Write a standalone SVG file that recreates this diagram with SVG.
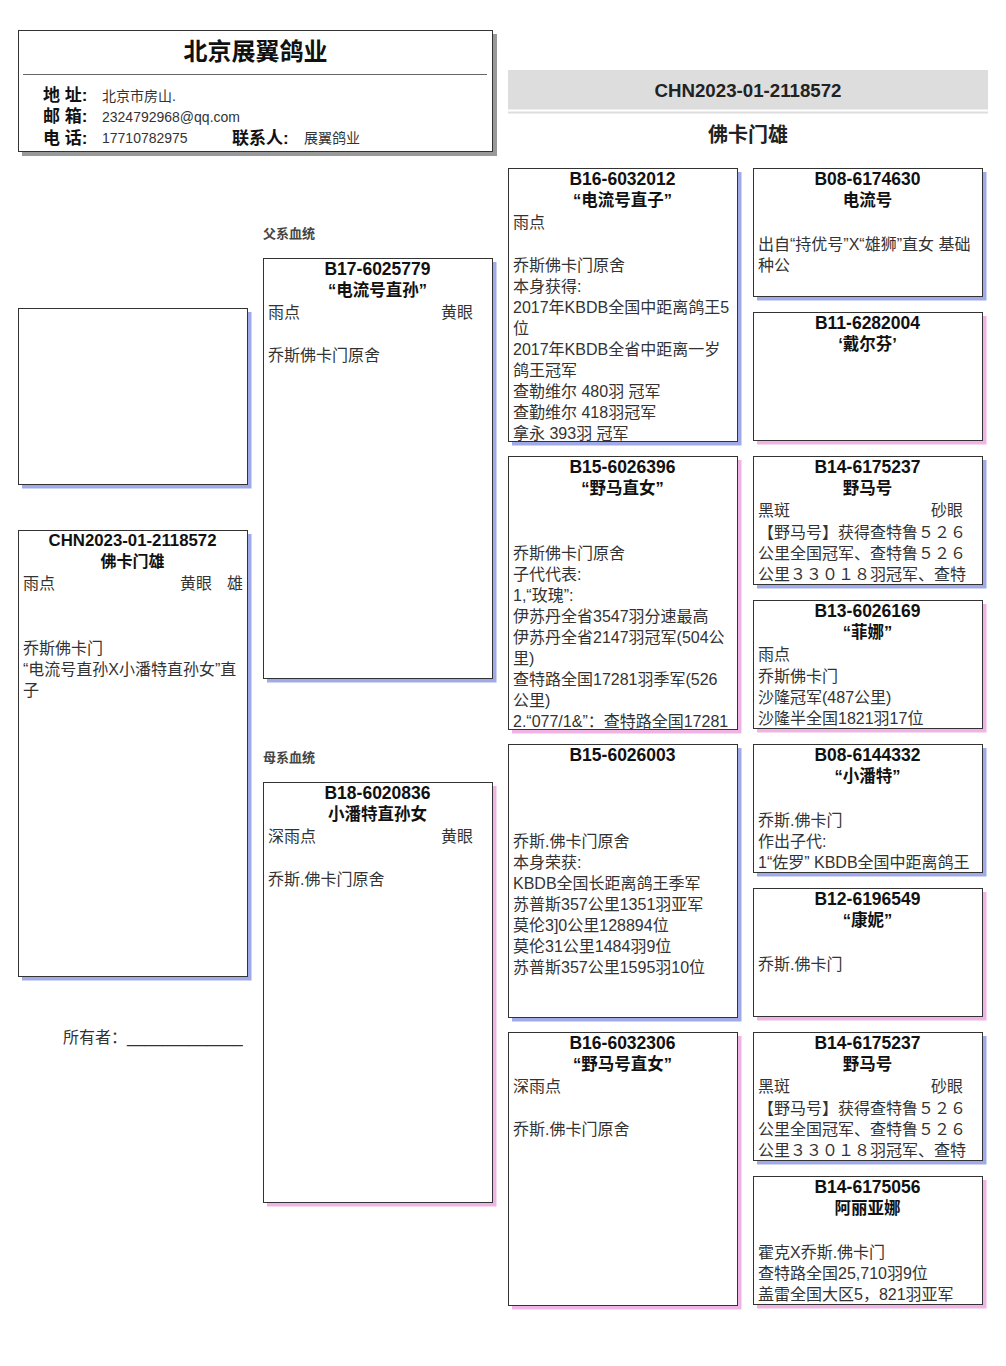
<svg xmlns="http://www.w3.org/2000/svg" width="1006" height="1366" viewBox="0 0 1006 1366">
<style>
text{font-family:"Liberation Sans","Noto Sans CJK SC",sans-serif}
.box{fill:#fff;stroke:#333;stroke-width:1}
.sm{fill:#a0aae8}
.sf{fill:#f0b4e4}
.sg{fill:#999}
.t{font-size:17.5px;font-weight:bold;text-anchor:middle;fill:#111}
.n{font-size:16.5px;font-weight:bold;text-anchor:middle;fill:#111}
.b{font-size:16px;fill:#333}
.r{text-anchor:end}
.hl{font-size:17px;font-weight:bold;fill:#111}
.hv{font-size:14px;fill:#333}
.lab{font-size:13px;font-weight:bold;fill:#444}
</style>
<defs>
<clipPath id="c3a"><rect x="508" y="168" width="230" height="274"/></clipPath>
<clipPath id="c3b"><rect x="508" y="456" width="230" height="274"/></clipPath>
<clipPath id="c3c"><rect x="508" y="744" width="230" height="274"/></clipPath>
<clipPath id="c4c"><rect x="753" y="456" width="230" height="129"/></clipPath>
<clipPath id="c4g"><rect x="753" y="1032" width="230" height="129"/></clipPath>
</defs>
<rect width="1006" height="1366" fill="#fff"/>

<g id="header">
<rect class="sg" x="22" y="34" width="475" height="122"/>
<rect class="box" x="18.5" y="30.5" width="474" height="121"/>
<text x="255.5" y="60" style="font-size:24px;font-weight:bold;text-anchor:middle;fill:#111">北京展翼鸽业</text>
<line x1="23" y1="74.5" x2="487" y2="74.5" stroke="#666" stroke-width="1"/>
<text class="hl" x="43" y="101">地 址:</text>
<text class="hv" x="102" y="101">北京市房山.</text>
<text class="hl" x="43" y="122">邮 箱:</text>
<text class="hv" x="102" y="122">2324792968@qq.com</text>
<text class="hl" x="43" y="144">电 话:</text>
<text class="hv" x="102" y="143">17710782975</text>
<text class="hl" x="232" y="144">联系人:</text>
<text class="hv" x="304" y="143">展翼鸽业</text>
</g>

<g id="title">
<rect x="508" y="70" width="480" height="39.5" fill="#ddd"/>
<rect x="508" y="111.5" width="480" height="2" fill="#ddd"/>
<text x="748" y="97" style="font-size:18.7px;font-weight:bold;text-anchor:middle;fill:#222">CHN2023-01-2118572</text>
<text x="748" y="142" style="font-size:20px;font-weight:bold;text-anchor:middle;fill:#222">佛卡门雄</text>
</g>

<g id="photo">
<rect class="sm" x="22" y="312" width="229.5" height="176.5"/>
<rect class="box" x="18.5" y="308.5" width="229" height="176"/>
</g>

<g id="subject">
<rect class="sm" x="22" y="534" width="229.5" height="446.5"/>
<rect class="box" x="18.5" y="530.5" width="229" height="446"/>
<text x="132.5" y="546" style="font-size:16.8px;font-weight:bold;text-anchor:middle;fill:#111">CHN2023-01-2118572</text>
<text x="132.5" y="567" style="font-size:16px;font-weight:bold;text-anchor:middle;fill:#111">佛卡门雄</text>
<text class="b" x="23" y="589">雨点</text>
<text class="b" x="180" y="589">黄眼</text>
<text class="b" x="227" y="589">雄</text>
<text class="b" x="23" y="654">乔斯佛卡门</text>
<text class="b" x="23" y="675">“电流号直孙X小潘特直孙女”直</text>
<text class="b" x="23" y="696">子</text>
</g>

<g id="owner">
<text class="b" x="63" y="1043">所有者：_____________</text>
</g>

<g id="labels">
<text class="lab" x="263" y="238">父系血统</text>
<text class="lab" x="263" y="762">母系血统</text>
</g>

<g id="sire">
<rect class="sm" x="267" y="262" width="229.5" height="420.5"/>
<rect class="box" x="263.5" y="258.5" width="229" height="420"/>
<text class="t" x="377.5" y="275">B17-6025779</text>
<text class="n" x="377.5" y="296">“电流号直孙”</text>
<text class="b" x="268" y="318">雨点</text>
<text class="b r" x="473" y="318">黄眼</text>
<text class="b" x="268" y="361">乔斯佛卡门原舍</text>
</g>

<g id="dam">
<rect class="sf" x="267" y="786" width="229.5" height="420.5"/>
<rect class="box" x="263.5" y="782.5" width="229" height="420"/>
<text class="t" x="377.5" y="799">B18-6020836</text>
<text class="n" x="377.5" y="820">小潘特直孙女</text>
<text class="b" x="268" y="842">深雨点</text>
<text class="b r" x="473" y="842">黄眼</text>
<text class="b" x="268" y="885">乔斯.佛卡门原舍</text>
</g>

<g id="ss">
<rect class="sm" x="512" y="172" width="229.5" height="273.5"/>
<rect class="box" x="508.5" y="168.5" width="229" height="273"/>
<g clip-path="url(#c3a)">
<text class="t" x="622.5" y="185">B16-6032012</text>
<text class="n" x="622.5" y="206">“电流号直子”</text>
<text class="b" x="513" y="228">雨点</text>
<text class="b" x="513" y="271">乔斯佛卡门原舍</text>
<text class="b" x="513" y="292">本身获得:</text>
<text class="b" x="513" y="313">2017年KBDB全国中距离鸽王5</text>
<text class="b" x="513" y="334">位</text>
<text class="b" x="513" y="355">2017年KBDB全省中距离一岁</text>
<text class="b" x="513" y="376">鸽王冠军</text>
<text class="b" x="513" y="397">查勒维尔 480羽 冠军</text>
<text class="b" x="513" y="418">查勤维尔 418羽冠军</text>
<text class="b" x="513" y="439">拿永 393羽 冠军</text>
</g>
</g>

<g id="sd">
<rect class="sf" x="512" y="460" width="229.5" height="273.5"/>
<rect class="box" x="508.5" y="456.5" width="229" height="273"/>
<g clip-path="url(#c3b)">
<text class="t" x="622.5" y="473">B15-6026396</text>
<text class="n" x="622.5" y="494">“野马直女”</text>
<text class="b" x="513" y="559">乔斯佛卡门原舍</text>
<text class="b" x="513" y="580">子代代表:</text>
<text class="b" x="513" y="601">1,“玫瑰”:</text>
<text class="b" x="513" y="622">伊苏丹全省3547羽分速最高</text>
<text class="b" x="513" y="643">伊苏丹全省2147羽冠军(504公</text>
<text class="b" x="513" y="664">里)</text>
<text class="b" x="513" y="685">查特路全国17281羽季军(526</text>
<text class="b" x="513" y="706">公里)</text>
<text class="b" x="513" y="727">2.“077/1&amp;”：查特路全国17281</text>
</g>
</g>

<g id="ds">
<rect class="sm" x="512" y="748" width="229.5" height="273.5"/>
<rect class="box" x="508.5" y="744.5" width="229" height="273"/>
<g clip-path="url(#c3c)">
<text class="t" x="622.5" y="761">B15-6026003</text>
<text class="b" x="513" y="847">乔斯.佛卡门原舍</text>
<text class="b" x="513" y="868">本身荣获:</text>
<text class="b" x="513" y="889">KBDB全国长距离鸽王季军</text>
<text class="b" x="513" y="910">苏普斯357公里1351羽亚军</text>
<text class="b" x="513" y="931">莫伦3]0公里128894位</text>
<text class="b" x="513" y="952">莫伦31公里1484羽9位</text>
<text class="b" x="513" y="973">苏普斯357公里1595羽10位</text>
</g>
</g>

<g id="dd">
<rect class="sf" x="512" y="1036" width="229.5" height="273.5"/>
<rect class="box" x="508.5" y="1032.5" width="229" height="273"/>
<text class="t" x="622.5" y="1049">B16-6032306</text>
<text class="n" x="622.5" y="1070">“野马号直女”</text>
<text class="b" x="513" y="1092">深雨点</text>
<text class="b" x="513" y="1135">乔斯.佛卡门原舍</text>
</g>

<g id="sss">
<rect class="sm" x="757" y="172" width="229.5" height="128.5"/>
<rect class="box" x="753.5" y="168.5" width="229" height="128"/>
<text class="t" x="867.5" y="185">B08-6174630</text>
<text class="n" x="867.5" y="206">电流号</text>
<text class="b" x="758" y="250">出自“持优号”X“雄狮”直女 基础</text>
<text class="b" x="758" y="271">种公</text>
</g>

<g id="ssd">
<rect class="sf" x="757" y="316" width="229.5" height="128.5"/>
<rect class="box" x="753.5" y="312.5" width="229" height="128"/>
<text class="t" x="867.5" y="329">B11-6282004</text>
<text class="n" x="867.5" y="350">‘戴尔芬’</text>
</g>

<g id="sds">
<rect class="sm" x="757" y="460" width="229.5" height="128.5"/>
<rect class="box" x="753.5" y="456.5" width="229" height="128"/>
<g clip-path="url(#c4c)">
<text class="t" x="867.5" y="473">B14-6175237</text>
<text class="n" x="867.5" y="494">野马号</text>
<text class="b" x="758" y="516">黑斑</text>
<text class="b r" x="963" y="516">砂眼</text>
<text class="b" x="758" y="538">【野马号】获得查特鲁５２６</text>
<text class="b" x="758" y="559">公里全国冠军、查特鲁５２６</text>
<text class="b" x="758" y="580">公里３３０１８羽冠军、查特</text>
</g>
</g>

<g id="sdd">
<rect class="sf" x="757" y="604" width="229.5" height="128.5"/>
<rect class="box" x="753.5" y="600.5" width="229" height="128"/>
<text class="t" x="867.5" y="617">B13-6026169</text>
<text class="n" x="867.5" y="638">“菲娜”</text>
<text class="b" x="758" y="660">雨点</text>
<text class="b" x="758" y="682">乔斯佛卡门</text>
<text class="b" x="758" y="703">沙隆冠军(487公里)</text>
<text class="b" x="758" y="724">沙隆半全国1821羽17位</text>
</g>

<g id="dss">
<rect class="sm" x="757" y="748" width="229.5" height="128.5"/>
<rect class="box" x="753.5" y="744.5" width="229" height="128"/>
<text class="t" x="867.5" y="761">B08-6144332</text>
<text class="n" x="867.5" y="782">“小潘特”</text>
<text class="b" x="758" y="826">乔斯.佛卡门</text>
<text class="b" x="758" y="847">作出子代:</text>
<text class="b" x="758" y="868">1“佐罗” KBDB全国中距离鸽王</text>
</g>

<g id="dsd">
<rect class="sf" x="757" y="892" width="229.5" height="128.5"/>
<rect class="box" x="753.5" y="888.5" width="229" height="128"/>
<text class="t" x="867.5" y="905">B12-6196549</text>
<text class="n" x="867.5" y="926">“康妮”</text>
<text class="b" x="758" y="970">乔斯.佛卡门</text>
</g>

<g id="dds">
<rect class="sm" x="757" y="1036" width="229.5" height="128.5"/>
<rect class="box" x="753.5" y="1032.5" width="229" height="128"/>
<g clip-path="url(#c4g)">
<text class="t" x="867.5" y="1049">B14-6175237</text>
<text class="n" x="867.5" y="1070">野马号</text>
<text class="b" x="758" y="1092">黑斑</text>
<text class="b r" x="963" y="1092">砂眼</text>
<text class="b" x="758" y="1114">【野马号】获得查特鲁５２６</text>
<text class="b" x="758" y="1135">公里全国冠军、查特鲁５２６</text>
<text class="b" x="758" y="1156">公里３３０１８羽冠军、查特</text>
</g>
</g>

<g id="ddd">
<rect class="sf" x="757" y="1180" width="229.5" height="128.5"/>
<rect class="box" x="753.5" y="1176.5" width="229" height="128"/>
<text class="t" x="867.5" y="1193">B14-6175056</text>
<text class="n" x="867.5" y="1214">阿丽亚娜</text>
<text class="b" x="758" y="1258">霍克X乔斯.佛卡门</text>
<text class="b" x="758" y="1279">查特路全国25,710羽9位</text>
<text class="b" x="758" y="1300">盖雷全国大区5，821羽亚军</text>
</g>

<g id="connectors"/>
</svg>
